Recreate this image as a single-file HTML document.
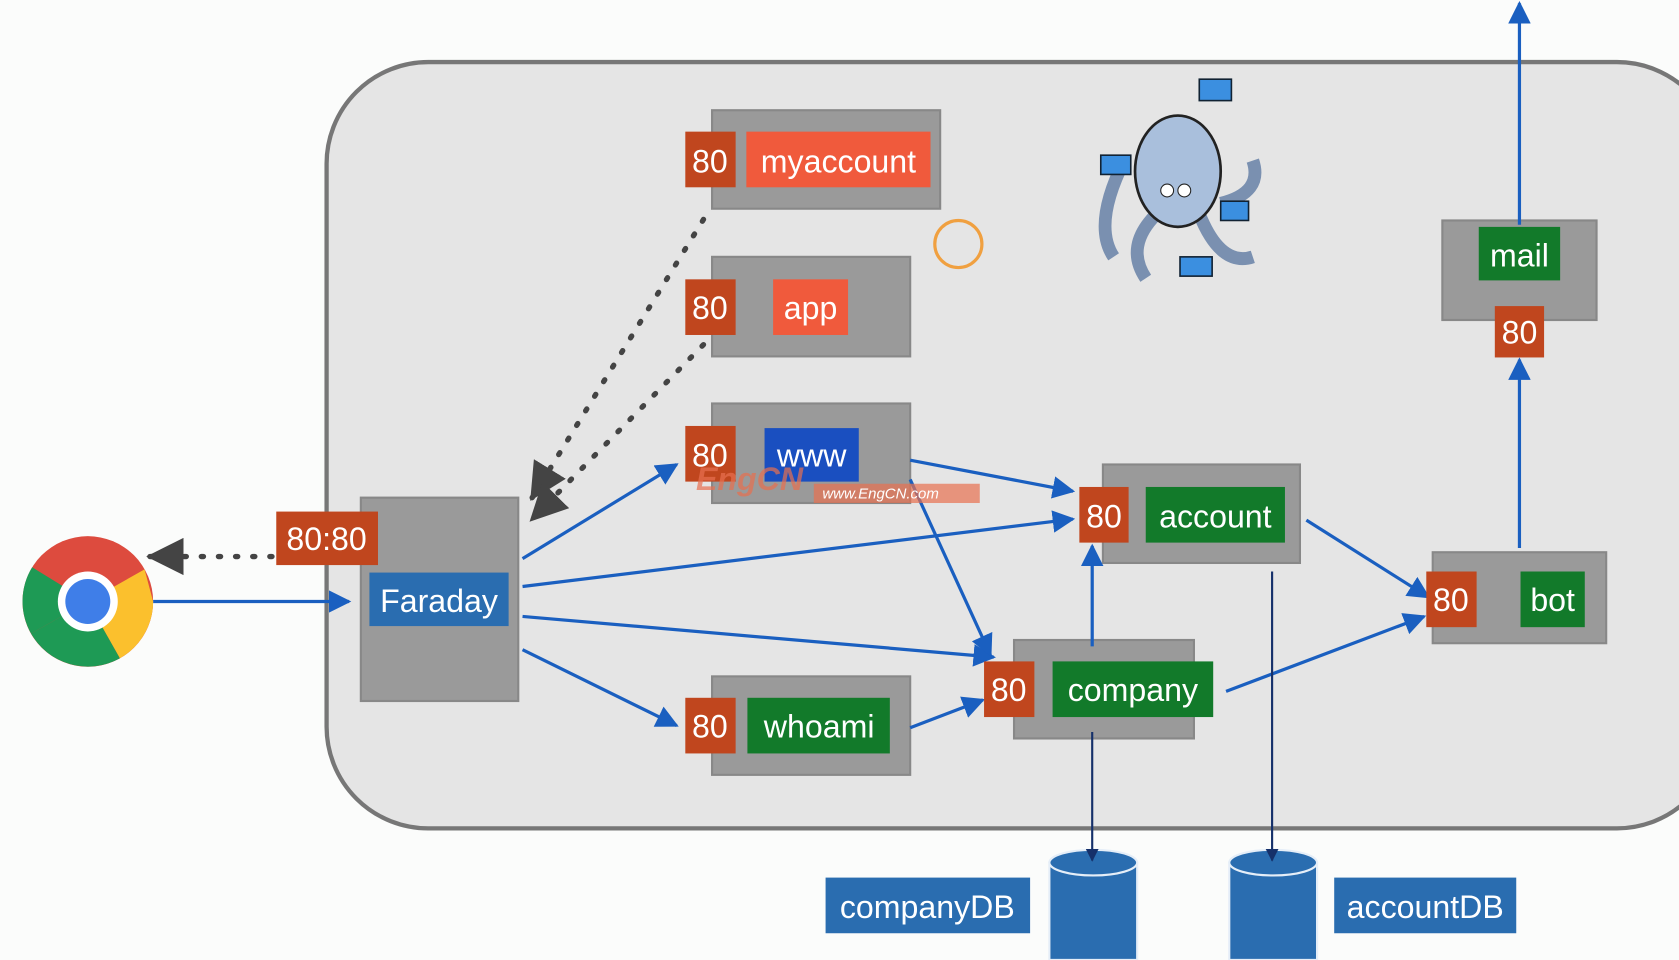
<!DOCTYPE html>
<html><head><meta charset="utf-8"><style>
html,body{margin:0;padding:0;background:#fbfcfb;}
svg{display:block;}
text{font-family:"Liberation Sans","DejaVu Sans",sans-serif;fill:#fff;}
</style></head><body>
<svg width="1679" height="960" viewBox="0 0 1568 897" preserveAspectRatio="none" xmlns="http://www.w3.org/2000/svg">
<defs>
<marker id="a" viewBox="0 0 10 10" refX="9" refY="5" markerWidth="7" markerHeight="7" orient="auto"><path d="M0,0 L10,5 L0,10 z" fill="#1a5fc0"/></marker>
<marker id="d" viewBox="0 0 10 10" refX="9" refY="5" markerWidth="6" markerHeight="6" orient="auto"><path d="M0,0 L10,5 L0,10 z" fill="#15306a"/></marker>
<marker id="g" viewBox="0 0 10 10" refX="9" refY="5" markerWidth="7" markerHeight="7" orient="auto"><path d="M0,0 L10,5 L0,10 z" fill="#444"/></marker>
</defs>
<rect width="1568" height="897" fill="#fbfcfb"/>
<rect x="305" y="58" width="1300" height="716" rx="95" fill="#e5e5e5" stroke="#777" stroke-width="4"/>
<g fill="#9a9a9a" stroke="#888" stroke-width="2">
<rect x="337" y="465" width="147" height="190"/>
<rect x="665" y="103" width="213" height="92"/>
<rect x="665" y="240" width="185" height="93"/>
<rect x="665" y="377" width="185" height="93"/>
<rect x="1030" y="434" width="184" height="92"/>
<rect x="947" y="598" width="168" height="92"/>
<rect x="665" y="632" width="185" height="92"/>
<rect x="1338" y="516" width="162" height="85"/>
<rect x="1347" y="206" width="144" height="93"/>
</g>
<g stroke="#444" stroke-width="5" stroke-dasharray="2 14" stroke-linecap="round" fill="none">
<line x1="657" y1="205" x2="497" y2="465" marker-end="url(#g)"/>
<line x1="657" y1="322" x2="497" y2="485" marker-end="url(#g)"/>
<line x1="270" y1="520" x2="140" y2="520" marker-end="url(#g)"/>
</g>
<g stroke="#1a5fc0" stroke-width="3" fill="none" marker-end="url(#a)">
<line x1="143" y1="562" x2="326" y2="562"/>
<line x1="488" y1="522" x2="632" y2="434"/>
<line x1="488" y1="548" x2="1002" y2="485"/>
<line x1="488" y1="576" x2="928" y2="614"/>
<line x1="488" y1="607" x2="632" y2="678"/>
<line x1="850" y1="430" x2="1002" y2="459"/>
<line x1="850" y1="448" x2="925" y2="612"/>
<line x1="850" y1="680" x2="918" y2="654"/>
<line x1="1020" y1="604" x2="1020" y2="510"/>
<line x1="1220" y1="486" x2="1334" y2="558"/>
<line x1="1145" y1="646" x2="1330" y2="576"/>
<line x1="1419" y1="512" x2="1419" y2="336"/>
<line x1="1419" y1="210" x2="1419" y2="3"/>
</g>
<g font-size="30">
<rect x="258" y="478" width="95" height="50" fill="#c0461e"/><text x="305" y="514" text-anchor="middle">80:80</text>
<rect x="345" y="535" width="130" height="50" fill="#2a6db0"/><text x="410" y="572" text-anchor="middle">Faraday</text>
<rect x="640" y="123" width="47" height="52" fill="#c0461e"/><text x="663" y="161" text-anchor="middle">80</text>
<rect x="697" y="123" width="172" height="52" fill="#f05a3c"/><text x="783" y="161" text-anchor="middle">myaccount</text>
<rect x="640" y="261" width="47" height="52" fill="#c0461e"/><text x="663" y="298" text-anchor="middle">80</text>
<rect x="722" y="261" width="70" height="52" fill="#f05a3c"/><text x="757" y="298" text-anchor="middle">app</text>
<rect x="640" y="398" width="47" height="52" fill="#c0461e"/><text x="663" y="436" text-anchor="middle">80</text>
<rect x="714" y="400" width="88" height="50" fill="#1a4fc0"/><text x="758" y="436" text-anchor="middle">www</text>
<rect x="1008" y="455" width="46" height="52" fill="#c0461e"/><text x="1031" y="493" text-anchor="middle">80</text>
<rect x="1070" y="455" width="130" height="52" fill="#127a2a"/><text x="1135" y="493" text-anchor="middle">account</text>
<rect x="919" y="618" width="47" height="52" fill="#c0461e"/><text x="942" y="655" text-anchor="middle">80</text>
<rect x="983" y="618" width="150" height="52" fill="#127a2a"/><text x="1058" y="655" text-anchor="middle">company</text>
<rect x="640" y="652" width="47" height="52" fill="#c0461e"/><text x="663" y="689" text-anchor="middle">80</text>
<rect x="698" y="652" width="133" height="52" fill="#127a2a"/><text x="765" y="689" text-anchor="middle">whoami</text>
<rect x="1332" y="534" width="47" height="52" fill="#c0461e"/><text x="1355" y="571" text-anchor="middle">80</text>
<rect x="1420" y="534" width="60" height="52" fill="#127a2a"/><text x="1450" y="571" text-anchor="middle">bot</text>
<rect x="1381" y="212" width="76" height="50" fill="#127a2a"/><text x="1419" y="249" text-anchor="middle">mail</text>
<rect x="1396" y="286" width="46" height="48" fill="#c0461e"/><text x="1419" y="321" text-anchor="middle">80</text>
<rect x="771" y="820" width="191" height="52" fill="#2a6db0"/><text x="866" y="858" text-anchor="middle">companyDB</text>
<rect x="1246" y="820" width="170" height="52" fill="#2a6db0"/><text x="1331" y="858" text-anchor="middle">accountDB</text>
</g>
<text x="650" y="458" font-size="30" font-style="italic" font-weight="bold" opacity="0.7" style="fill:#e87050">EngCN</text>
<rect x="760" y="452" width="155" height="18" fill="#e87050" opacity="0.7"/>
<text x="768" y="466" font-size="14" font-style="italic">www.EngCN.com</text>
<g fill="#2a6db0" stroke="#e5eef8" stroke-width="2">
<path d="M980,806 v91 h82 v-91 z"/><ellipse cx="1021" cy="806" rx="41" ry="12"/>
<path d="M1148,806 v91 h82 v-91 z"/><ellipse cx="1189" cy="806" rx="41" ry="12"/>
</g>
<g stroke="#15306a" stroke-width="2" fill="none" marker-end="url(#d)">
<line x1="1020" y1="684" x2="1020" y2="804"/>
<line x1="1188" y1="534" x2="1188" y2="804"/>
</g>
<circle cx="895" cy="228" r="22" fill="none" stroke="#f0a040" stroke-width="3"/>
<circle cx="82" cy="562" r="61" fill="#dd4b3e"/>
<path d="M82,562 L29,592 A61,61 0 0 0 112,615 z" fill="#1e9a55"/>
<path d="M82,562 L112,615 A61,61 0 0 0 143,562 L135,532 z" fill="#fbc02d"/>
<path d="M82,562 L29,592 A61,61 0 0 1 30,530 z" fill="#1e9a55"/>
<circle cx="82" cy="562" r="28" fill="#fff"/>
<circle cx="82" cy="562" r="21" fill="#3f7ee8"/>
<g stroke="#222" stroke-width="2.5" fill="#a9bfdc">
<path d="M1050,150 q-30,60 -10,90 M1080,200 q-30,30 -10,60 M1120,200 q20,50 50,40 M1140,190 q40,-10 30,-40" fill="none" stroke="#7a90b0" stroke-width="12"/>
<ellipse cx="1100" cy="160" rx="40" ry="52"/>
</g>
<circle cx="1090" cy="178" r="6" fill="#fff" stroke="#222"/><circle cx="1106" cy="178" r="6" fill="#fff" stroke="#222"/>
<g fill="#3b8fe0" stroke="#123" stroke-width="1.5">
<rect x="1028" y="145" width="28" height="18"/><rect x="1120" y="74" width="30" height="20"/><rect x="1140" y="188" width="26" height="18"/><rect x="1102" y="240" width="30" height="18"/>
</g>
</svg>
</body></html>
